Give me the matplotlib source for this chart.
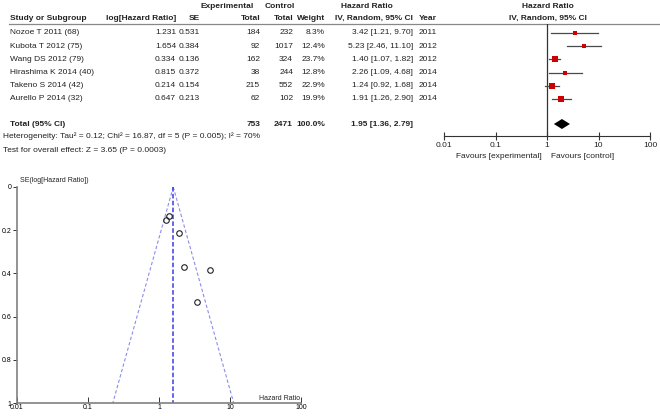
import numpy as np
import matplotlib
import matplotlib.pyplot as plt

matplotlib.rcParams['font.family'] = ['Liberation Sans', 'DejaVu Sans']

# Dados
estudos = ['Nozoe T 2011 (68)', 'Kubota T 2012 (75)', 'Wang DS 2012 (79)',
           'Hirashima K 2014 (40)', 'Takeno S 2014 (42)', 'Aurello P 2014 (32)']
log_hr = [1.231, 1.654, 0.334, 0.815, 0.214, 0.647]
se = [0.531, 0.384, 0.136, 0.372, 0.154, 0.213]
total_exp = [184, 92, 162, 38, 215, 62]
total_ctrl = [232, 1017, 324, 244, 552, 102]
peso = [8.3, 12.4, 23.7, 12.8, 22.9, 19.9]
hr = [3.42, 5.23, 1.40, 2.26, 1.24, 1.91]
ic_inf = [1.21, 2.46, 1.07, 1.09, 0.92, 1.26]
ic_sup = [9.70, 11.10, 1.82, 4.68, 1.68, 2.90]
ano = [2011, 2012, 2012, 2014, 2014, 2014]

total_exp_sum = 753
total_ctrl_sum = 2471
hr_total = 1.95
ic_total = [1.36, 2.79]
log_hr_fixo = 0.462  # estimativa pooled (efeito fixo) usada no funil

heterog = 'Heterogeneity: Tau² = 0.12; Chi² = 16.87, df = 5 (P = 0.005); I² = 70%'
efeito = 'Test for overall effect: Z = 3.65 (P = 0.0003)'

W, H = 660, 416
fig = plt.figure(figsize=(W / 100, H / 100), dpi=100)

# Camada de texto em coordenadas de pixel
tx = fig.add_axes([0, 0, 1, 1])
tx.set_xlim(0, W)
tx.set_ylim(H, 0)
tx.axis('off')

fs = 6
def txt(x, y, s, ha='left', bold=False, size=fs):
    tx.text(x, y, s, ha=ha, va='center', fontsize=size,
            fontweight='bold' if bold else 'normal', color='#222222')

# Cabecalho
txt(227, 6, 'Experimental', ha='center', bold=True)
txt(280, 6, 'Control', ha='center', bold=True)
txt(367, 6, 'Hazard Ratio', ha='center', bold=True)
txt(548, 6, 'Hazard Ratio', ha='center', bold=True)
txt(10, 18, 'Study or Subgroup', bold=True)
txt(176, 18, 'log[Hazard Ratio]', ha='right', bold=True)
txt(200, 18, 'SE', ha='right', bold=True)
txt(260, 18, 'Total', ha='right', bold=True)
txt(293, 18, 'Total', ha='right', bold=True)
txt(325, 18, 'Weight', ha='right', bold=True)
txt(413, 18, 'IV, Random, 95% CI', ha='right', bold=True)
txt(419, 18, 'Year', bold=True)
txt(548, 18, 'IV, Random, 95% CI', ha='center', bold=True)
tx.plot([9, W], [23.5, 23.5], color='#888888', lw=0.9)

linhas_y = [33 + 13.2 * i for i in range(len(estudos))]
for i, y in enumerate(linhas_y):
    txt(10, y, estudos[i])
    txt(176, y, f'{log_hr[i]:.3f}', ha='right')
    txt(200, y, f'{se[i]:.3f}', ha='right')
    txt(260, y, str(total_exp[i]), ha='right')
    txt(293, y, str(total_ctrl[i]), ha='right')
    txt(325, y, f'{peso[i]:.1f}%', ha='right')
    txt(413, y, f'{hr[i]:.2f} [{ic_inf[i]:.2f}, {ic_sup[i]:.2f}]', ha='right')
    txt(419, y, str(ano[i]))

y_tot = 124
txt(10, y_tot, 'Total (95% CI)', bold=True)
txt(260, y_tot, str(total_exp_sum), ha='right', bold=True)
txt(293, y_tot, str(total_ctrl_sum), ha='right', bold=True)
txt(325, y_tot, '100.0%', ha='right', bold=True)
txt(413, y_tot, f'{hr_total:.2f} [{ic_total[0]:.2f}, {ic_total[1]:.2f}]', ha='right', bold=True)
txt(3, 136, heterog)
txt(3, 150, efeito)

# Forest plot
x0, x1, y0, y1 = 444, 650, 23.5, 136
fa = fig.add_axes([x0 / W, 1 - y1 / H, (x1 - x0) / W, (y1 - y0) / H])
fa.set_xscale('log')
fa.set_xlim(0.01, 100)
fa.set_ylim(y1, y0)
fa.patch.set_alpha(0)
for s in ['top', 'right', 'left']:
    fa.spines[s].set_visible(False)
fa.spines['bottom'].set_color('#333333')
fa.spines['bottom'].set_linewidth(0.8)
fa.set_yticks([])
fa.set_xticks([0.01, 0.1, 1, 10, 100])
fa.set_xticklabels(['0.01', '0.1', '1', '10', '100'], fontsize=fs, color='#222222')
fa.xaxis.set_minor_locator(matplotlib.ticker.NullLocator())
fa.tick_params(axis='x', direction='inout', length=6, width=0.8, pad=1, color='#333333')
fa.axvline(1, color='#333333', lw=0.9)

for i, y in enumerate(linhas_y):
    fa.plot([ic_inf[i], ic_sup[i]], [y, y], color='#4a4a4a', lw=0.9)
    ms = 4.0 * np.sqrt(peso[i] / 23.7)
    fa.plot(hr[i], y, marker='s', color='#cc0000', ms=ms, mew=0)

lo, hi = ic_total
fa.fill([lo, hr_total, hi, hr_total], [y_tot, y_tot - 5, y_tot, y_tot + 5],
        color='black', lw=0)

txt(542, 157, 'Favours [experimental]', ha='right')
txt(551, 157, 'Favours [control]')

# Funil
fx0, fx1, fy0, fy1 = 17, 301, 187, 403
fu = fig.add_axes([fx0 / W, 1 - fy1 / H, (fx1 - fx0) / W, (fy1 - fy0) / H])
fu.set_xscale('log')
fu.set_xlim(0.01, 100)
fu.set_ylim(1, 0)
fu.patch.set_alpha(0)
for s in ['top', 'right']:
    fu.spines[s].set_visible(False)
for s in ['left', 'bottom']:
    fu.spines[s].set_color('#808080')
    fu.spines[s].set_linewidth(1.2)
fu.set_xticks([0.01, 0.1, 1, 10, 100])
fu.set_xticklabels(['0.01', '0.1', '1', '10', '100'])
fu.xaxis.set_minor_locator(matplotlib.ticker.NullLocator())
fu.set_yticks([0, 0.2, 0.4, 0.6, 0.8, 1])
fu.set_yticklabels(['0', '0.2', '0.4', '0.6', '0.8', '1'])
fu.tick_params(axis='x', direction='in', length=4, width=0.7, labelsize=5, pad=1, color='#333333')
fu.tick_params(axis='y', direction='out', length=3, width=0.7, labelsize=5, pad=1, color='#333333')

se_lin = np.array([0.0, 1.0])
fu.plot(np.exp(log_hr_fixo - 1.96 * se_lin), se_lin, ls='--', color='#8c8cf0', lw=0.8, dashes=(3, 2))
fu.plot(np.exp(log_hr_fixo + 1.96 * se_lin), se_lin, ls='--', color='#8c8cf0', lw=0.8, dashes=(3, 2))
fu.plot([np.exp(log_hr_fixo)] * 2, [0, 1], ls='--', color='#3c3ce6', lw=1.1, dashes=(3, 1.5))
fu.plot(np.exp(log_hr), se, 'o', mfc='none', mec='#222222', ms=4, mew=0.8, clip_on=False)

txt(20, 180, 'SE(log[Hazard Ratio])', size=5)
txt(300, 398, 'Hazard Ratio', ha='right', size=5)

fig.savefig('out.png', dpi=100)
